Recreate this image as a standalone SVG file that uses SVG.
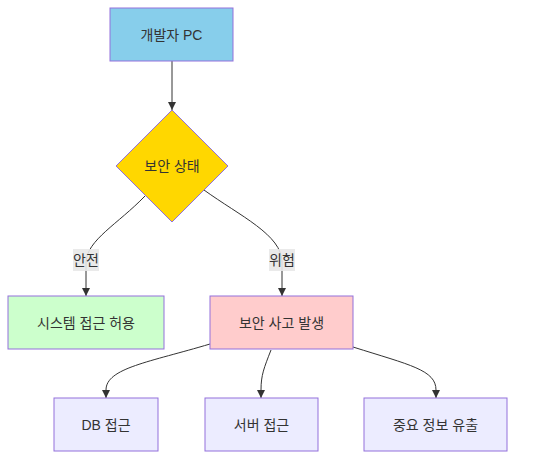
<svg xmlns="http://www.w3.org/2000/svg" width="550" height="467" viewBox="0 0 550 467">
<style>
.node rect, .node polygon { stroke: #9370DB; stroke-width: 1; }
.lbl { font-family: "Liberation Sans", "Noto Sans CJK KR", sans-serif; font-size: 14px; fill: #333; text-anchor: middle; dominant-baseline: central; }
.edge { fill: none; stroke: #333; stroke-width: 1; }
.elbg { fill: #e8e8e8; opacity: 0.9; }
</style>
<defs>
<marker id="arr" viewBox="0 0 10 10" refX="10" refY="5" markerWidth="8" markerHeight="8" markerUnits="userSpaceOnUse" orient="auto">
<path d="M0,0 L10,5 L0,10 z" fill="#333"/>
</marker>
</defs>
<rect width="550" height="467" fill="#ffffff"/>
<g id="connectors">
<path class="edge" d="M172,61 L172,110" marker-end="url(#arr)"/>
<path class="edge" d="M145,196 C118,224 87,240 86,262 L86,296" marker-end="url(#arr)"/>
<path class="edge" d="M204,190 C240,216 282,235 282,262 L282,296" marker-end="url(#arr)"/>
<path class="edge" d="M210,344 C150,362 106,368 106,390 L106,398" marker-end="url(#arr)"/>
<path class="edge" d="M271,350 C264,368 261,375 261,390 L261,398" marker-end="url(#arr)"/>
<path class="edge" d="M353,347 C410,365 436,370 436,390 L436,398" marker-end="url(#arr)"/>
<g id="label-safe">
<rect class="elbg" x="73" y="249" width="26" height="22"/>
<text class="lbl" x="86" y="260">안전</text>
</g>
<g id="label-danger">
<rect class="elbg" x="269" y="249" width="26" height="22"/>
<text class="lbl" x="282" y="260">위험</text>
</g>
</g>
<g id="dev-pc" class="node">
<rect x="110" y="8" width="123" height="53" fill="#87CEEB"/>
<text class="lbl" x="171.5" y="34.5">개발자 PC</text>
</g>
<g id="security-state" class="node">
<polygon points="172,110 228,166 172,222 116,166" fill="#FFD700"/>
<text class="lbl" x="172" y="166">보안 상태</text>
</g>
<g id="allow-access" class="node">
<rect x="8" y="296" width="156" height="53" fill="#ccffcc"/>
<text class="lbl" x="86" y="322.5">시스템 접근 허용</text>
</g>
<g id="incident" class="node">
<rect x="210" y="296" width="143" height="53" fill="#ffcccc"/>
<text class="lbl" x="281.5" y="322.5">보안 사고 발생</text>
</g>
<g id="db-access" class="node">
<rect x="54" y="398" width="104" height="53" fill="#ECECFF"/>
<text class="lbl" x="106" y="424.5">DB 접근</text>
</g>
<g id="server-access" class="node">
<rect x="205" y="398" width="113" height="53" fill="#ECECFF"/>
<text class="lbl" x="261.5" y="424.5">서버 접근</text>
</g>
<g id="data-leak" class="node">
<rect x="364" y="398" width="143" height="53" fill="#ECECFF"/>
<text class="lbl" x="435.5" y="424.5">중요 정보 유출</text>
</g>
</svg>
